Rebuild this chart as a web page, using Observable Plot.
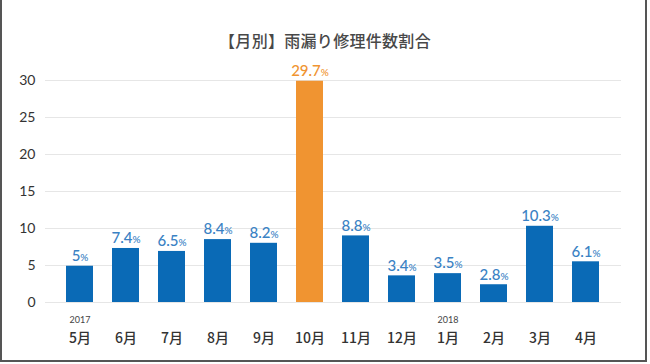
<!DOCTYPE html>
<html>
<head>
<meta charset="utf-8">
<script src="https://cdn.jsdelivr.net/npm/d3@7"></script>
<script src="https://cdn.jsdelivr.net/npm/@observablehq/plot@0.6"></script>
<style>
  html, body { margin: 0; padding: 0; background: #fff; }
  #wrap { position: relative; width: 650px; height: 364px; overflow: hidden; font-family: "Noto Sans CJK JP", "Noto Sans", sans-serif; }
  #title { position: absolute; left: 0; top: 0; width: 650px; height: 64px; box-sizing: border-box; padding-top: 29px; line-height: 22px; text-align: center; font-size: 16px; font-weight: 500; color: #484848; letter-spacing: 0.3px; }
  #frame { position: absolute; left: 0; top: 0; width: 647px; height: 362px; border-left: 2px solid #555; border-right: 2px solid #555; border-bottom: 2px solid #555; box-sizing: border-box; pointer-events: none; }
  #chart { position: absolute; left: 0; top: 0; }
  #chart svg { display: block; }
</style>
</head>
<body>
<div id="wrap">
  <div id="chart"></div>
  <div id="title">【月別】雨漏り修理件数割合</div>
  <div id="frame"></div>
</div>
<script>
const months = ["5月","6月","7月","8月","9月","10月","11月","12月","1月","2月","3月","4月"];
const barHeights = [4.9, 7.3, 6.9, 8.5, 8.0, 29.9, 9.0, 3.6, 3.9, 2.4, 10.3, 5.5];
const labels = ["5", "7.4", "6.5", "8.4", "8.2", "29.7", "8.8", "3.4", "3.5", "2.8", "10.3", "6.1"];
const years = [{month: "5月", year: "2017"}, {month: "1月", year: "2018"}];
const yTicks = [0, 5, 10, 15, 20, 25, 30];
const highlight = "10月";

const data = months.map((m, i) => ({month: m, value: barHeights[i], label: labels[i] + "%"}));
const blue = "#0a6ab6", orange = "#f09431";
const blueText = "#3a82c4";

const chart = Plot.plot({
  width: 650,
  height: 364,
  marginTop: 80,
  marginBottom: 62,
  marginLeft: 45,
  marginRight: 29,
  style: {fontFamily: "Lato, 'Noto Sans CJK JP', sans-serif", background: "transparent"},
  x: {domain: months, paddingInner: 0.41, paddingOuter: 0.45, label: null},
  y: {domain: [0, 30], label: null},
  marks: [
    Plot.ruleY(yTicks, {stroke: "#e6e6e6", strokeWidth: 1}),
    Plot.barY(data, {x: "month", y: "value", fill: d => d.month === highlight ? orange : blue}),
    Plot.text(data, {x: "month", y: "value", text: "label", dy: -10, fontSize: 15, fontWeight: 500,
      fill: d => d.month === highlight ? orange : blueText, className: "vlabel"}),
    Plot.axisY(yTicks, {tickSize: 0, tickPadding: 10, fontSize: 14, fill: "#333", label: null}),
    Plot.axisX({tickSize: 0, tickPadding: 31, fontSize: 14, fontWeight: 500, fill: "#333", label: null,
      fontFamily: "'Noto Sans CJK JP', sans-serif"}),
    Plot.text(years, {x: "month", y: 0, text: "year", dy: 18, fontSize: 9, fill: "#444"})
  ]
});

d3.select(chart).selectAll(".vlabel text").each(function() {
  const t = d3.select(this);
  const s = t.text();
  const num = s.replace("%", "");
  t.text(null);
  t.append("tspan").text(num);
  t.append("tspan").attr("font-size", 10).text("%");
});

document.getElementById("chart").appendChild(chart);
</script>
</body>
</html>
